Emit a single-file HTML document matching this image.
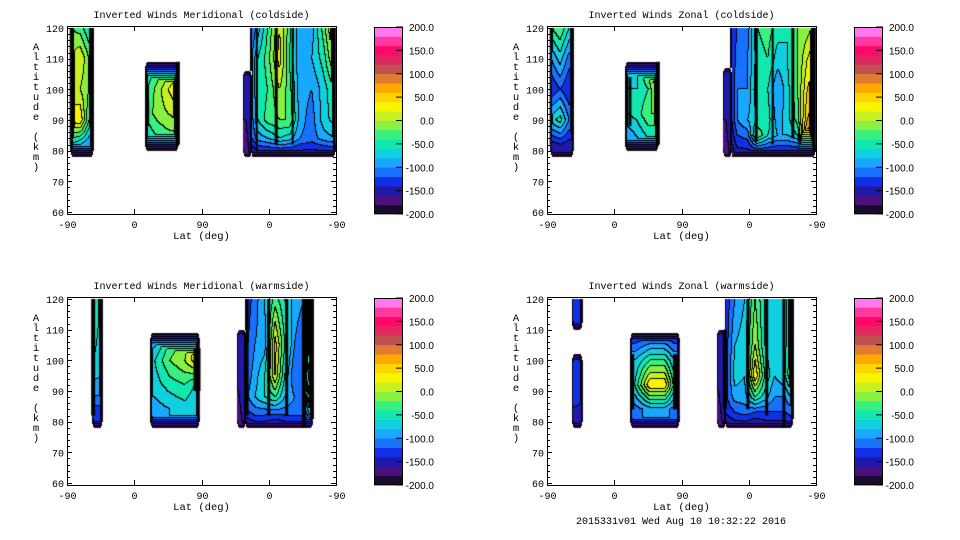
<!DOCTYPE html>
<html><head><meta charset="utf-8">
<style>
body{margin:0;background:#fff;width:960px;height:540px;overflow:hidden;position:relative;font-family:"Liberation Sans",sans-serif}
canvas{position:absolute}
svg{position:absolute;left:0;top:0}
</style></head>
<body>
<svg id="svg" width="960" height="540"></svg>
<script>
// ---- chart data ----
const panelTitles = ["Inverted Winds Meridional (coldside)","Inverted Winds Zonal (coldside)","Inverted Winds Meridional (warmside)","Inverted Winds Zonal (warmside)"];
const xTickPos = [0,90,180,270,360];
const xTickLabels = ["-90","0","90","0","-90"];
const yTicks = [60,70,80,90,100,110,120];
const cbarTicks = [-200,-150,-100,-50,0,50,100,150,200];
const cbarColors = ["#1c0a2c","#4a1080","#2018a8","#1030e8","#1870ff","#18a8ff","#10d0e0","#10e8b0","#38f080","#88f040","#c8f020","#f8f400","#ffd400","#ffa800","#e07c30","#c05050","#e02860","#ff0868","#ff38a0","#ff78f0"];

const tlBlocks = [
 {ext:[4,36,78,120], cols:[6,18,30], rows:[120,110,100,90,82], vals:[[-20,-30,-60],[0,20,-20],[10,0,-20],[30,40,-40],[-60,-80,-100]]},
 {ext:[104,150,80,109], cols:[108,122,136,148], rows:[108,100,92,84], vals:[[-60,-40,-20,0],[-40,-10,20,40],[-30,-10,0,10],[-60,-40,-30,-30]]},
 {ext:[235,248,78,106], cols:[240,248], rows:[104,90,80], vals:[[-150,-140],[-160,-140],[-170,-150]]},
 {ext:[245,360,78,120], cols:[248,256,269,285,298,312,328,344,359], rows:[120,110,100,90,84,79], vals:[
  [-120,-90,-40,20,-30,-100,-90,-30,40],
  [-100,-60,-30,30,-40,-100,-80,-50,10],
  [-100,-60,-40,0,-30,-90,-100,-70,-40],
  [-110,-60,-30,-20,-20,-90,-110,-70,-50],
  [-120,-90,-80,-60,-70,-100,-110,-90,-80],
  [-160,-150,-150,-150,-150,-150,-150,-150,-150]]}
];
const tlWalls = [[5,82,120,2],[33,86,120,3],[108,88,96,3],[149,82,109,3],[254,80,120,2],[280,82,120,3],[302,82,120,2]];

const trBlocks = [
 {ext:[4,36,78,120], cols:[6,18,30], rows:[120,110,100,90,82], vals:[[-40,-20,-60],[-100,-70,-110],[-140,-120,-140],[-70,-50,-100],[-150,-140,-150]]},
 {ext:[104,150,80,109], cols:[108,122,136,148], rows:[108,100,92,84], vals:[[-80,-60,0,40],[-60,-60,-40,20],[-60,-50,-20,-20],[-100,-80,-60,-60]]},
 {ext:[235,248,78,107], cols:[240,248], rows:[104,90,80], vals:[[-150,-140],[-160,-140],[-170,-150]]},
 {ext:[245,360,78,120], cols:[248,255,269,282,296,309,322,336,349,359], rows:[120,110,100,90,85,79], vals:[
  [-140,-120,-110,-40,-30,-50,-60,-20,-10,10],
  [-140,-110,-100,-50,-40,-70,-60,-20,20,40],
  [-140,-100,-100,-40,-60,-100,-70,-20,40,60],
  [-140,-100,-80,-60,-50,-90,-70,-30,60,80],
  [-150,-120,-110,-20,-60,-80,-80,-60,100,60],
  [-170,-150,-150,-150,-150,-150,-150,-150,-140,-140]]}
];
const trWalls = [[5,82,120,2],[33,86,120,3],[111,88,104,3],[149,82,109,3],[280,83,120,3],[302,82,120,2],[329,84,120,3]];

const blBlocks = [
 {ext:[33,48,78,120], cols:[36,45], rows:[120,100,90,82], vals:[[-40,-60],[-60,-70],[-90,-90],[-140,-140]]},
 {ext:[111,178,78,109], cols:[118,138,158,171], rows:[108,100,92,84], vals:[[-100,-40,-20,20],[-60,-20,0,30],[-70,-50,-40,-60],[-90,-80,-70,-80]]},
 {ext:[227,240,78,110], cols:[230,240], rows:[108,90,80], vals:[[-150,-140],[-160,-140],[-170,-150]]},
 {ext:[238,330,78,120], cols:[238,252,265,279,292,305,319,327], rows:[120,105,95,88,83,79], vals:[
  [-140,-110,-80,-30,-60,-90,-100,150],
  [-130,-100,-90,30,-40,-100,-120,120],
  [-120,-90,-60,20,-60,-120,-100,-40],
  [-110,-80,-60,-40,-80,-100,-100,20],
  [-130,-110,-110,-110,-110,-110,-110,-60],
  [-160,-150,-150,-160,-150,-150,-150,-120]]}
];
const blWalls = [[35,82,120,4],[174,90,104,7],[241,82,120,3],[270,82,120,3],[294,82,120,3],[317,78,120,4]];

const brBlocks = [
 {ext:[33,48,110,120], cols:[36,45], rows:[120,112], vals:[[-120,-120],[-130,-130]]},
 {ext:[33,48,78,102], cols:[36,45], rows:[100,90,82], vals:[[-140,-140],[-120,-130],[-150,-150]]},
 {ext:[111,178,78,109], cols:[118,138,158,171], rows:[108,100,92,84], vals:[[-140,-130,-130,-140],[-80,-40,-40,-80],[-60,40,40,-50],[-110,-90,-90,-110]]},
 {ext:[227,240,78,110], cols:[230,240], rows:[108,90,80], vals:[[-150,-140],[-160,-140],[-170,-150]]},
 {ext:[238,330,78,120], cols:[238,252,265,279,292,305,319,327], rows:[120,105,95,88,83,79], vals:[
  [-140,-100,-80,-20,-60,-60,-70,-20],
  [-140,-80,-70,0,-60,-80,-70,-20],
  [-140,-70,-80,40,-40,-80,-60,-20],
  [-130,-90,-90,-40,-70,-100,-100,-80],
  [-140,-120,-110,-120,-120,-120,-120,-110],
  [-160,-150,-150,-160,-150,-150,-150,-140]]}
];
const brWalls = [[114,84,102,4],[172,84,102,5],[238,84,110,4],[269,84,120,3],[294,82,120,3],[317,78,120,3]];

const panelBlocks = [tlBlocks,trBlocks,blBlocks,brBlocks];
const panelWalls = [tlWalls,trWalls,blWalls,brWalls];
const panelOrigins = [[67,26],[547,26],[67,297],[547,297]];

// ---- rendering ----
const W=269,H=188;
const NS="http://www.w3.org/2000/svg";
const MONO='"Liberation Mono",monospace';
const svg=document.getElementById('svg');
function xS(p){return p*W/360;}
function yS(a){return 2+(120-a)*184/60;}
function pOf(x){return x*360/W;}
function aOf(y){return 120-(y-2)*60/184;}
function mk(tag,attrs,parent){const e=document.createElementNS(NS,tag);for(const k in attrs)e.setAttribute(k,attrs[k]);(parent||svg).appendChild(e);return e;}
function txt(x,y,s,size,anchor,parent,fam){const t=mk('text',{x:x,y:y,'font-size':size,'text-anchor':anchor||'middle','font-family':fam||MONO,fill:'#000'},parent);t.textContent=s;return t;}
function hexRgb(h){return [parseInt(h.substr(1,2),16),parseInt(h.substr(3,2),16),parseInt(h.substr(5,2),16)];}
const rgbs=cbarColors.map(hexRgb);
function interp(arr,v){
  const n=arr.length;
  if(n<2)return [0,0];
  const asc=arr[n-1]>arr[0];
  if(asc?v<=arr[0]:v>=arr[0])return [0,0];
  if(asc?v>=arr[n-1]:v<=arr[n-1])return [n-2,1];
  for(let i=0;i<n-1;i++){
    const a=arr[i],b=arr[i+1];
    if((v-a)*(v-b)<=0)return [i,(v-a)/(b-a)];
  }
  return [n-2,1];
}
function blockVal(b,p,a){
  const [ci,cf]=interp(b.cols,p);
  const [ri,rf]=interp(b.rows,a);
  const c1=Math.min(ci+1,b.cols.length-1), r1=Math.min(ri+1,b.rows.length-1);
  const v00=b.vals[ri][ci],v01=b.vals[ri][c1],v10=b.vals[r1][ci],v11=b.vals[r1][c1];
  return (v00*(1-cf)+v01*cf)*(1-rf)+(v10*(1-cf)+v11*cf)*rf;
}
function bandOf(v){return Math.max(0,Math.min(19,Math.floor((v+200)/20)));}

panelOrigins.forEach((o,pi)=>{
  const cv=document.createElement('canvas');
  cv.width=W;cv.height=H;cv.style.left=o[0]+'px';cv.style.top=o[1]+'px';
  
  
  document.body.appendChild(cv);
  const ctx=cv.getContext('2d');
  const img=ctx.createImageData(W,H);
  const band=new Int16Array(W*H).fill(-1);
  const blocks=panelBlocks[pi];
  for(let y=0;y<H;y++)for(let x=0;x<W;x++){
    const p=pOf(x+0.5),a=aOf(y+0.5);
    for(const b of blocks){
      const [p0,p1,a0,a1]=b.ext;
      if(p<p0||p>p1||a<a0||a>a1)continue;
      const x0=xS(p0),x1=xS(p1),yb=yS(a0),yt=yS(a1);
      const dx=Math.min(x+0.5-x0,x1-x-0.5)*4;
      const dy=a1>=120?(yb-y-0.5):Math.min(y+0.5-yt,yb-y-0.5);
      const R=12;let d;
      if(dx<R&&dy<R){d=R-Math.hypot(R-dx,R-dy);if(d<0)break;}else d=Math.min(dx,dy);
      let v=blockVal(b,p,a);
      v=Math.min(v,-199+d*10);
      band[y*W+x]=bandOf(v);
      break;
    }
  }
  for(let y=0;y<H;y++)for(let x=0;x<W;x++){
    const i=y*W+x,bi=band[i];if(bi<0)continue;
    let c=rgbs[bi];
    const r=x<W-1?band[i+1]:-1,dn=y<H-1?band[i+W]:-1;
    if((r>=0&&r!==bi)||(dn>=0&&dn!==bi))c=[0,0,0];
    img.data[i*4]=c[0];img.data[i*4+1]=c[1];img.data[i*4+2]=c[2];img.data[i*4+3]=255;
  }
  ctx.putImageData(img,0,0);
  ctx.fillStyle='#000';
  panelWalls[pi].forEach(w=>{ctx.fillRect(xS(w[0])-w[3]/2,yS(w[2]),w[3],yS(w[1])-yS(w[2]));});

  const g=mk('g',{transform:'translate('+o[0]+','+o[1]+')'});
  
  
  const frame=mk('rect',{x:0.5,y:0.5,width:W,height:H,fill:'none',stroke:'#000','stroke-width':1},g);
  
  
  xTickPos.forEach((p,i)=>{
    const x=Math.round(xS(p))+0.5;
    mk('line',{x1:x,y1:H,x2:x,y2:H-5,stroke:'#000'},g);
    mk('line',{x1:x,y1:0,x2:x,y2:5,stroke:'#000'},g);
    const t=txt(x,H+14,xTickLabels[i],10,'middle',g);
    
    
  });
  for(let a=60;a<=120;a+=2){
    const y=Math.round(yS(a))+0.5,L=(a%10===0)?5:3;
    mk('line',{x1:0,y1:y,x2:L,y2:y,stroke:'#000'},g);
    mk('line',{x1:W,y1:y,x2:W-L,y2:y,stroke:'#000'},g);
  }
  yTicks.forEach(a=>{
    const t=txt(-3,yS(a)+4,String(a),10,'end',g);
    
    
  });
  const tt=txt(W/2,-8,panelTitles[pi],10,'middle',g);
  
  
  const xt=txt(W/2,H+25,'Lat (deg)',10.5,'middle',g);
  
  
  const yt=mk('g',{},g);
  
  
  'Altitude (km)'.split('').forEach((ch,k)=>{txt(-31,24+k*10,ch,10.5,'middle',yt);});
  const cb=mk('g',{transform:'translate(307,1)'},g);
  
  
  const bh=187/20;
  cbarColors.forEach((c,k)=>{mk('rect',{x:0,y:187-(k+1)*bh,width:29,height:bh+0.4,fill:c},cb);});
  mk('rect',{x:0.5,y:0.5,width:28,height:186,fill:'none',stroke:'#000'},cb);
  cbarTicks.forEach(v=>{
    const y=187-(v+200)/400*187;
    mk('line',{x1:22,y1:y,x2:29,y2:y,stroke:'#000'},cb);
    const t=txt(60,y+4,v.toFixed(1),10,'end',cb,'"Liberation Sans",sans-serif');
    
    
  });
});
const ft=txt(681,524,'2015331v01 Wed Aug 10 10:32:22 2016',10,'middle');


</script>
</body></html>
